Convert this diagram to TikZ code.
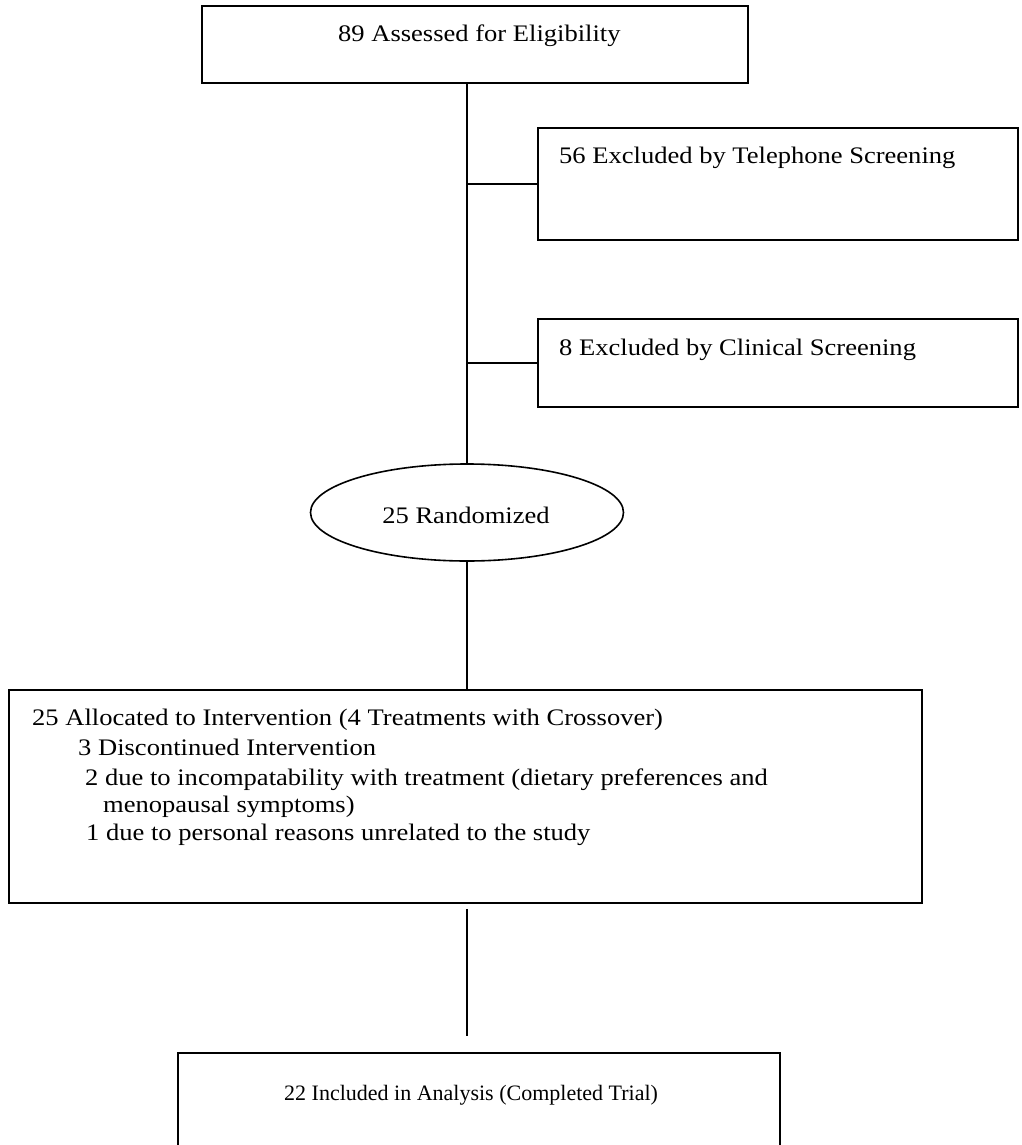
\documentclass[tikz,border=0pt]{standalone}
\usepackage{fontspec}
\setmainfont{Liberation Serif}
\newfontfamily\widefont[FakeStretch=1.12]{Liberation Serif}
\usetikzlibrary{shapes.geometric}
\begin{document}
\begin{tikzpicture}[x=1pt,y=-1pt,
  box/.style={draw, line width=1.6pt, rectangle, inner sep=0pt},
  oval/.style={draw, line width=1.6pt, ellipse, inner sep=0pt},
  lbl/.style={inner sep=0pt, anchor=base west, font=\widefont\fontsize{23.7}{30}\selectfont},
  small/.style={inner sep=0pt, anchor=base west, font=\fontsize{22}{26}\selectfont},
  conn/.style={line width=1.6pt}]
\useasboundingbox (0,0) rectangle (1021,1145);
\clip (0,0) rectangle (1021,1145);
% boxes
\node[box, minimum width=546pt, minimum height=77pt] (b1) at (475,44.5) {};
\node[box, minimum width=480pt, minimum height=112pt] (b2) at (778,184) {};
\node[box, minimum width=480pt, minimum height=88pt] (b3) at (778,363) {};
\node[oval, minimum width=313pt, minimum height=97pt] (e) at (467,512.5) {};
\node[box, minimum width=913pt, minimum height=213pt] (b4) at (465.5,796.5) {};
\node[box, minimum width=602pt, minimum height=120pt] (b5) at (479,1113) {};
% texts
\node[lbl] (t1) at (338,42) {89 Assessed for Eligibility};
\node[lbl] (t2) at (559,163) {56 Excluded by Telephone Screening};
\node[lbl] (t3) at (559,355) {8 Excluded by Clinical Screening};
\node[lbl, anchor=base] (t4) at (466,523) {25 Randomized};
\node[lbl] (t5a) at (32,725) {25 Allocated to Intervention (4 Treatments with Crossover)};
\node[lbl] (t5b) at (78,755) {3 Discontinued Intervention};
\node[lbl] (t5c) at (85,785) {2 due to incompatability with treatment (dietary preferences and};
\node[lbl] (t5d) at (103,812) {menopausal symptoms)};
\node[lbl] (t5e) at (86,840) {1 due to personal reasons unrelated to the study};
\node[small] (t6) at (284,1100) {22 Included in Analysis (Completed Trial)};
% connectors
\draw[conn] (b1.south -| e.north) -- (e.north);
\draw[conn] (e.north |- b2.west) -- (b2.west);
\draw[conn] (e.north |- b3.west) -- (b3.west);
\draw[conn] (e.south) -- (b4.north -| e.south);
\draw[conn] ([yshift=-5pt]b4.south -| e.south) -- ([yshift=16pt]b5.north -| e.south);
\end{tikzpicture}
\end{document}
